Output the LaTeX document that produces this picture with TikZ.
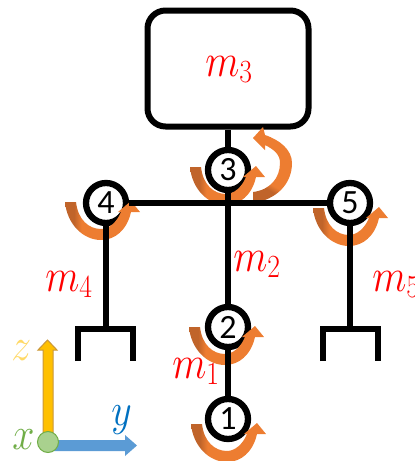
\documentclass[tikz,border=0pt]{standalone}
\usepackage{fontspec}
\newfontfamily\numfont{Carlito}
\definecolor{swdark}{HTML}{C0642A}
\definecolor{swlight}{HTML}{ED7D31}
\definecolor{axz}{HTML}{FFC000}
\definecolor{axzb}{HTML}{C9973A}
\definecolor{axzt}{HTML}{FFD966}
\definecolor{axy}{HTML}{5B9BD5}
\definecolor{axyt}{HTML}{0070C0}
\definecolor{axg}{HTML}{70AD47}
\definecolor{axgf}{HTML}{A9D18E}
\pgfdeclarehorizontalshading{swooshsh}{100bp}{color(0bp)=(swdark);color(30bp)=(swdark);color(31bp)=(swdark);color(36bp)=(swlight);color(100bp)=(swlight)}
\tikzset{
  x=1pt,y=-1pt,
  bar/.style={line width=6.3pt,black},
  footbar/.style={line width=5.5pt,black,line cap=butt},
  joint/.style={circle,draw=black,line width=6.3pt,fill=white,minimum size=40pt,inner sep=0pt,font=\numfont\fontsize{34}{34}\selectfont},
  mass/.style={anchor=base west,inner sep=0pt,text=red,font=\Huge,xscale=1.6,yscale=1.87},
  axlabel/.style={anchor=base west,inner sep=0pt,font=\Huge,xscale=1.6,yscale=1.85},
  sw/.style={shading=swooshsh,draw=none},
}
\newcommand{\swoosh}[2]{%
  \shade[sw,shift={(#1,#2)}] (0,0) .. controls (2,22) and (18,38) .. (36,38)
    .. controls (50,38) and (62,28) .. (66,10) -- (75,10) -- (66,-1) -- (53,10) -- (56,10)
    .. controls (52,20) and (44,27) .. (36,27)
    .. controls (24,27) and (13,18) .. (11,0) -- cycle;}
\begin{document}
\begin{tikzpicture}
\useasboundingbox (0,0) rectangle (415,461);
\clip (0,0) rectangle (415,461);
\node[draw=black,line width=6pt,rounded corners=18pt,minimum width=161pt,minimum height=116pt,inner sep=0pt] (body) at (228,68.5) {};
\coordinate (hip) at (228,203);
\coordinate (fl) at (106,329);
\coordinate (fr) at (350,329);
\coordinate (fla) at (78,329);
\coordinate (flb) at (133,329);
\coordinate (fra) at (323,329);
\coordinate (frb) at (378,329);
\coordinate (flc) at (78,361);
\coordinate (fld) at (133,361);
\coordinate (frc) at (323,361);
\coordinate (frd) at (378,361);
% joints
\node[joint] (j3) at (228,170) {3};
\node[joint] (j4) at (106,203) {4};
\node[joint] (j5) at (350,203) {5};
\node[joint] (j2) at (228,327) {2};
\node[joint] (j1) at (228,419) {1};
% swooshes
\swoosh{190}{167}
\swoosh{65}{202}
\swoosh{313}{208}
\swoosh{189}{327}
\swoosh{191}{424}
\shade[shading=swooshsh,shading angle=60] (253,203) .. controls (275,200) and (292,185) .. (292,163)
  .. controls (292,150) and (280,140) .. (265,135) -- (263,127) -- (253,138) -- (265,150) -- (265,145)
  .. controls (275,150) and (280,155) .. (280,163) .. controls (280,178) and (270,190) .. (253,192) -- cycle;
% connectors
\draw[bar] (body.south) -- (j3.north);
\draw[bar] (j3.south) -- (hip);
\draw[bar] (hip) -- (j2.north);
\draw[bar] (j2.south) -- (j1.north);
\draw[bar] (j4.east) -- (j5.west);
\draw[bar] (j4.south) -- (fl);
\draw[bar] (j5.south) -- (fr);
\draw[footbar] (flc) -- (fla) -- (flb) -- (fld);
\draw[footbar] (frc) -- (fra) -- (frb) -- (frd);
% labels
\node[mass] (m3) at (205,76) {$m_{\scriptscriptstyle 3}$};
\node[mass] (m2) at (233,271) {$m_{\scriptscriptstyle 2}$};
\node[mass] (m4) at (45,291) {$m_{\scriptscriptstyle 4}$};
\node[mass] (m5) at (372,291) {$m_{\scriptscriptstyle 5}$};
\node[mass] (m1) at (172,378) {$m_{\scriptscriptstyle 1}$};
% axes
\fill[axy] (48,440) -- (125,440) -- (125,435) -- (137,445.5) -- (125,456) -- (125,451) -- (48,451) -- cycle;
\filldraw[draw=axzb,fill=axz,line width=1pt] (43,440) -- (43,350) -- (38,350) -- (47.5,340) -- (57,350) -- (53,350) -- (53,440) -- cycle;
\node[circle,draw=axg,fill=axgf,line width=1pt,minimum size=21pt,inner sep=0pt] (orig) at (48,442) {};
\node[axlabel,text=axzt] (lz) at (11,360) {$z$};
\node[axlabel,text=axg] (lx) at (12,449) {$x$};
\node[axlabel,text=axyt] (ly) at (111,425) {$y$};
\end{tikzpicture}
\end{document}
